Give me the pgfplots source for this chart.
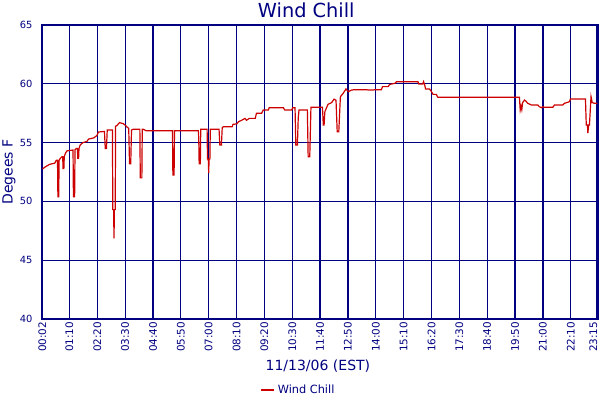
\documentclass[border=0pt]{standalone}
\usepackage{fontspec}
\setmainfont{DejaVu Sans}
\usepackage{pgfplots}
\pgfplotsset{compat=1.18}
\definecolor{navy}{HTML}{000080}
\definecolor{wcred}{HTML}{CC0000}

\pgfplotstableread{
t v
2 52.76
10 52.95
20 53.15
33 53.25
37 53.5
40 53.5
41 50.4
43 50.4
44 53.5
47 53.66
51 53.8
53 53.8
54 52.8
56 52.8
57 53.8
60 54.1
64 54.3
79 54.37
80 50.4
83 50.4
84 54.4
87 54.5
90 54.5
91 53.67
93 53.67
94 54.5
97 54.8
104 55.0
114 55.1
118 55.3
131 55.4
139 55.6
143 55.9
158 55.95
160 54.5
163 54.5
165 56.07
178 56.07
179 49.3
181 49.3
182 46.86
183 49.3
185 49.3
186 56.4
189 56.44
196 56.7
206 56.6
214 56.35
219 56.2
221 53.2
224 53.2
226 56.07
230 56.13
247 56.13
248 52.0
252 52.0
253 56.13
256 56.13
263 56.0
329 56.0
330 52.24
333 52.24
334 56.0
394 56.0
395 55.4
396 53.2
399 53.2
400 56.13
416 56.13
417 53.6
419 53.6
420 52.4
421 53.6
423 53.6
424 56.13
446 56.13
448 54.8
452 54.8
454 56.27
457 56.35
479 56.35
481 56.55
491 56.6
495 56.78
503 56.9
511 57.06
515 56.9
522 57.06
537 57.06
540 57.49
553 57.49
557 57.77
570 57.77
572 57.97
608 57.97
611 57.77
629 57.77
631 57.97
637 57.97
639 54.8
643 54.8
645 57.06
647 57.77
668 57.77
670 53.8
674 53.8
677 58.0
706 58.0
708 56.5
710 56.5
712 57.63
720 58.26
729 58.4
735 58.7
740 58.6
743 55.93
747 55.93
751 58.9
758 59.19
765 59.56
771 59.33
779 59.47
787 59.5
817 59.5
821 59.47
833 59.47
837 59.5
854 59.5
857 59.76
871 59.76
875 59.95
888 60.04
892 60.18
946 60.18
948 59.98
958 59.98
960 60.18
963 59.9
965 59.56
975 59.56
980 59.33
984 59.1
992 59.1
996 58.85
1201 58.85
1203 57.77
1205 58.1
1207 57.8
1209 58.4
1214 58.62
1218 58.5
1222 58.34
1231 58.2
1247 58.2
1251 58.05
1256 57.97
1260 58.05
1264 58.0
1285 58.0
1289 58.2
1310 58.2
1314 58.34
1327 58.48
1329 58.7
1367 58.7
1369 56.5
1372 56.5
1373 55.8
1375 56.5
1377 56.5
1381 58.9
1384 58.4
1390 58.34
1397 58.34
}\windchill

\begin{document}
\begin{tikzpicture}
\begin{axis}[
  name=ax,
  scale only axis,
  width=417.6pt,
  height=220.5pt,
  xmin=-1, xmax=1398.5,
  ymin=40, ymax=65,
  ytick={40,45,...,65},
  xtick={2,70,140,210,280,350,420,490,560,630,700,770,840,910,980,1050,1120,1190,1260,1330},
  xticklabels={00:02,01:10,02:20,03:30,04:40,05:50,07:00,08:10,09:20,10:30,11:40,12:50,14:00,15:10,16:20,17:30,18:40,19:50,21:00,22:10},
  extra x ticks={1395},
  extra x tick labels={23:15},
  extra x tick style={xticklabel style={yshift=2.5pt}},
  major tick length=0pt,
  xmajorgrids, ymajorgrids,
  grid style={navy, line width=0.9pt},
  axis line style={navy, line width=0.9pt},
  /pgf/number format/assume math mode=true,
  xticklabel style={rotate=90, anchor=east, font=\fontsize{7.8}{9}\selectfont, text=navy, inner sep=1pt, xshift=-1pt},
  yticklabel style={font=\fontsize{7.4}{8}\selectfont, text=navy, xshift=-3pt},
  title={Wind Chill},
  title style={at={(axis description cs:0.476,1.024)}, anchor=center, font=\fontsize{14.5}{16}\selectfont, text=navy},
  xlabel={11/13/06 (EST)},
  xlabel style={at={(axis description cs:0.497,-0.160)}, anchor=center, font=\fontsize{10.5}{12}\selectfont, text=navy},
  ylabel={Degees F},
  ylabel style={at={(axis description cs:-0.058,0.5)}, anchor=center, font=\fontsize{10.5}{12}\selectfont, text=navy},
  legend style={at={(axis description cs:0.462,-0.241)}, anchor=center, draw=none, fill=none,
    font=\fontsize{8.5}{10}\selectfont, text=navy, inner sep=0pt},
  legend image code/.code={\draw[#1, line width=1.5pt] (0pt,0pt) -- (10pt,0pt);},
]
\addplot[wcred, line width=0.9pt] table[x=t, y=v] {\windchill};
\addlegendentry{Wind Chill}
\end{axis}
\pgfresetboundingbox
\path ([shift={(-30.9pt,-60.75pt)}]ax.south west) rectangle ([shift={(1.5pt,18.75pt)}]ax.north east);
\end{tikzpicture}
\end{document}
